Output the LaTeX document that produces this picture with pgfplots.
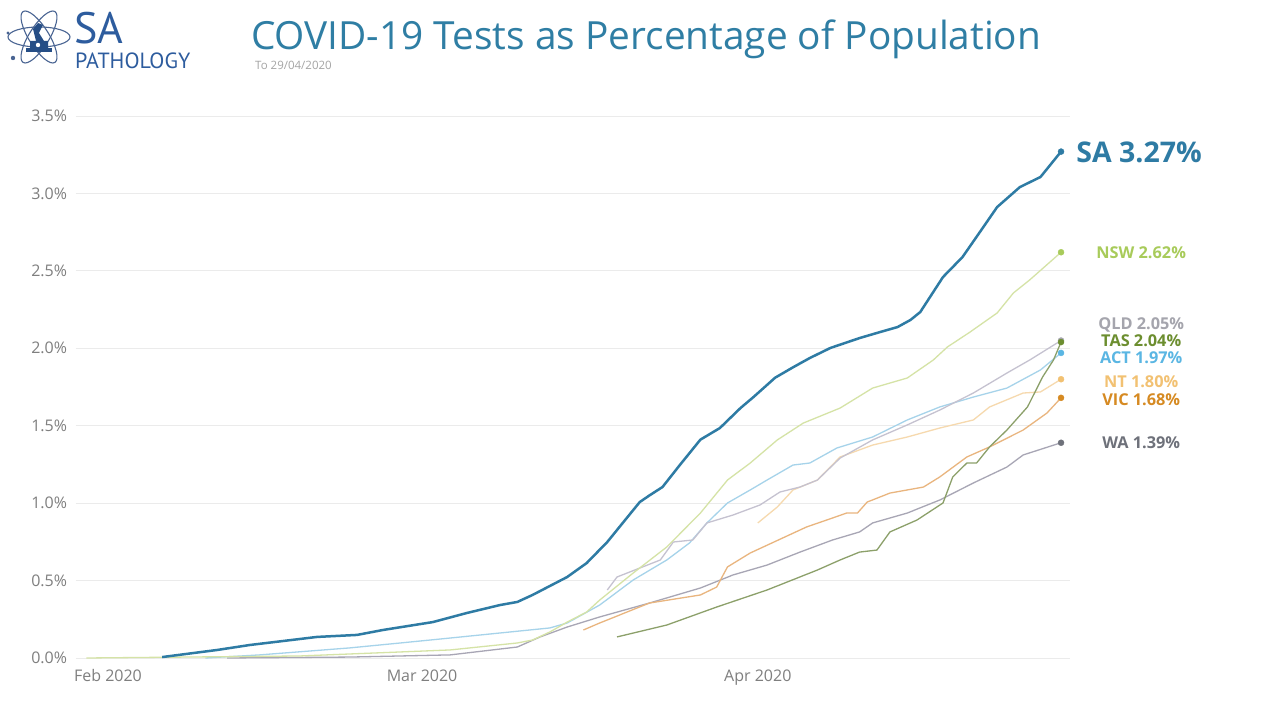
\documentclass[border=0pt]{standalone}
\usepackage{fontspec}
\setmainfont{Open Sans}
\newfontfamily\logofont{PT Sans}
\usepackage{pgfplots}
\pgfplotsset{compat=1.18}
\definecolor{gridc}{HTML}{EBEBEB}
\definecolor{tickc}{HTML}{7F7F7F}
\definecolor{titlec}{HTML}{2F7EA4}
\definecolor{logoc}{HTML}{2D5C9E}
\definecolor{atomc}{HTML}{4A6593}
\definecolor{cSA}{HTML}{2E7BA4}
\definecolor{lNSW}{HTML}{D5E3A6}\definecolor{dNSW}{HTML}{A8CB5A}
\definecolor{lQLD}{HTML}{C5C2D0}\definecolor{dQLD}{HTML}{A5A5AD}
\definecolor{lTAS}{HTML}{8CA06A}\definecolor{dTAS}{HTML}{6C8E2F}
\definecolor{lACT}{HTML}{A6D3EA}\definecolor{dACT}{HTML}{5AB6E3}
\definecolor{lNT}{HTML}{F6D9AE}\definecolor{dNT}{HTML}{F2C172}
\definecolor{lVIC}{HTML}{E9B57E}\definecolor{dVIC}{HTML}{D68A22}
\definecolor{lWA}{HTML}{A8A6B5}\definecolor{dWA}{HTML}{6E717A}
\begin{document}
\begin{tikzpicture}[x=1bp,y=1bp]
\path[use as bounding box, fill=white] (0,0) rectangle (1280,721);
% logo
\begin{scope}[shift={(39,684)}, draw=atomc, line width=1.1bp]
\draw (0,0) ellipse [x radius=31, y radius=10];
\draw[rotate=58] (0,0) ellipse [x radius=30, y radius=10];
\draw[rotate=-58] (0,0) ellipse [x radius=30, y radius=10];
\fill[logoc!85!black] (-13,-15) rectangle (13,-11);
\fill[logoc!85!black] (-9,-11) -- (-9,-4) -- (-3,-4) -- (-6,8) -- (-1,14) -- (4,12) -- (0,4) -- (5,-4) -- (9,-4) -- (9,-11) -- cycle;
\fill[white] (-1,-8) circle (2.2);
\fill[atomc] (-26,-21) circle (2.2);
\fill[atomc] (-31,4) circle (1.6);
\end{scope}
\node[anchor=base west, inner sep=0, text depth=0pt, text=logoc, font=\logofont\fontsize{44bp}{48bp}\selectfont] at (74,677.5) {SA};
\node[anchor=base west, inner sep=0, text height=15bp, text=logoc, font=\logofont\fontsize{22bp}{24bp}\selectfont] at (75,652.5) {PATHOLOGY};
% title
\node[anchor=base west, inner sep=0, text=titlec, font=\fontsize{38.8bp}{44bp}\selectfont] at (251,671) {COVID-19 Tests as Percentage of Population};
\node[anchor=base west, inner sep=0, text=tickc!70, font=\fontsize{11.5bp}{13bp}\selectfont] at (255,651) {To 29/04/2020};
\begin{axis}[
  at={(75.5bp,63bp)}, anchor=south west, scale only axis,
  width=994.2bp, height=542bp,
  xmin=-3, xmax=88.8, ymin=0, ymax=3.5,
  axis line style={draw=none}, tick style={draw=none},
  ymajorgrids, grid style={color=gridc, line width=0.9bp},
  ytick={0,0.5,1,1.5,2,2.5,3,3.5},
  xtick={0,29,60}, xticklabels={Feb 2020, Mar 2020, Apr 2020},
  /pgf/number format/assume math mode=true,
  yticklabel={\pgfmathprintnumber[fixed,fixed zerofill,precision=1]{\tick}\%},
  tick label style={font=\fontsize{16bp}{18bp}\selectfont, text=tickc},
  yticklabel style={xshift=-5bp},
  xticklabel style={yshift=-8bp},
  clip=false,
  every axis plot/.append style={line join=round},
]
% WA
\addplot[lWA, line width=1.3bp] coordinates {(11,0)(22.3,0.006)(31.6,0.02)(37.8,0.071)(39.9,0.136)(42.4,0.2)(45.4,0.265)(50.0,0.355)(54.7,0.452)(57.7,0.536)(60.85,0.6)(63.9,0.684)(66.9,0.762)(69.4,0.814)(70.6,0.872)(73.8,0.936)(76.8,1.02)(79.9,1.13)(83.0,1.233)(84.5,1.311)(88,1.39)};
% VIC
\addplot[lVIC, line width=1.3bp] coordinates {(43.9,0.181)(45.4,0.226)(50.0,0.355)(54.7,0.407)(56.2,0.458)(57.2,0.588)(59.3,0.678)(62.3,0.775)(64.5,0.846)(66.9,0.904)(68.2,0.936)(69.2,0.936)(70.1,1.007)(72.2,1.065)(75.3,1.104)(76.8,1.169)(79.3,1.298)(81.4,1.363)(84.5,1.472)(86.7,1.582)(88,1.68)};
% NT
\addplot[lNT, line width=1.3bp] coordinates {(60.0,0.872)(61.8,0.975)(63.25,1.085)(65.5,1.149)(67.6,1.298)(70.6,1.375)(73.8,1.427)(76.8,1.485)(79.9,1.537)(81.4,1.621)(84.5,1.711)(86.1,1.718)(88,1.80)};
% ACT
\addplot[lACT, line width=1.3bp] coordinates {(9,0)(14.0,0.02)(22.3,0.065)(27.0,0.097)(31.6,0.129)(40.8,0.194)(42.4,0.226)(45.4,0.342)(48.5,0.504)(51.6,0.633)(53.7,0.743)(55.3,0.872)(57.2,1.001)(59.3,1.085)(60.85,1.149)(63.25,1.246)(64.8,1.259)(67.3,1.356)(70.6,1.427)(73.8,1.537)(76.8,1.621)(79.9,1.685)(83.0,1.743)(86.1,1.86)(88,1.97)};
% QLD
\addplot[lQLD, line width=1.3bp] coordinates {(46.1,0.439)(47.0,0.523)(51.0,0.633)(52.2,0.749)(54.0,0.762)(55.3,0.872)(57.7,0.923)(60.2,0.988)(62.05,1.072)(63.9,1.104)(65.5,1.149)(67.6,1.291)(70.6,1.408)(73.8,1.505)(76.8,1.601)(79.9,1.711)(83.0,1.84)(85.1,1.924)(88,2.05)};
% NSW
\addplot[lNSW, line width=1.3bp] coordinates {(-2,0)(17.7,0.013)(27.0,0.039)(31.6,0.052)(37.8,0.097)(39.2,0.116)(40.8,0.168)(42.4,0.232)(44.2,0.297)(45.4,0.374)(48.5,0.549)(51.6,0.717)(54.7,0.936)(57.2,1.149)(59.3,1.259)(61.8,1.408)(64.2,1.517)(67.6,1.614)(70.6,1.743)(73.8,1.808)(76.2,1.924)(77.5,2.008)(79.6,2.105)(82.1,2.228)(83.6,2.357)(85.1,2.441)(88,2.62)};
% TAS
\addplot[lTAS, line width=1.3bp] coordinates {(47.0,0.136)(51.6,0.213)(56.2,0.329)(60.85,0.439)(65.5,0.568)(67.6,0.633)(69.4,0.684)(71.0,0.697)(72.2,0.814)(74.7,0.891)(77.1,1.001)(78.0,1.169)(79.3,1.259)(80.2,1.259)(81.4,1.363)(83.0,1.472)(84.9,1.621)(86.3,1.815)(87.3,1.924)(88,2.04)};
% SA
\addplot[cSA, line width=2.5bp] coordinates {(5,0.006)(10.1,0.052)(13.1,0.084)(19.3,0.136)(23.0,0.149)(25.4,0.181)(30.0,0.232)(33.1,0.29)(36.2,0.342)(37.8,0.362)(39.2,0.407)(42.4,0.523)(44.2,0.613)(46.1,0.749)(47.9,0.904)(49.1,1.007)(50.0,1.05)(51.2,1.104)(52.8,1.246)(54.7,1.41)(56.5,1.485)(58.4,1.614)(59.6,1.685)(61.6,1.81)(63.3,1.879)(64.8,1.937)(66.7,2.002)(69.4,2.066)(71.3,2.105)(72.9,2.137)(74.1,2.183)(75.0,2.234)(77.1,2.46)(78.9,2.589)(80.5,2.75)(82.1,2.912)(84.2,3.041)(86.1,3.106)(88,3.27)};
% end dots
\addplot[only marks, mark=*, mark size=3bp, dWA, mark options={draw=dWA,fill=dWA}] coordinates {(88,1.39)};
\addplot[only marks, mark=*, mark size=3bp, dVIC, mark options={draw=dVIC,fill=dVIC}] coordinates {(88,1.68)};
\addplot[only marks, mark=*, mark size=3bp, dNT, mark options={draw=dNT,fill=dNT}] coordinates {(88,1.80)};
\addplot[only marks, mark=*, mark size=3bp, dACT, mark options={draw=dACT,fill=dACT}] coordinates {(88,1.97)};
\addplot[only marks, mark=*, mark size=3bp, dQLD, mark options={draw=dQLD,fill=dQLD}] coordinates {(88,2.05)};
\addplot[only marks, mark=*, mark size=3bp, dTAS, mark options={draw=dTAS,fill=dTAS}] coordinates {(88,2.04)};
\addplot[only marks, mark=*, mark size=3bp, dNSW, mark options={draw=dNSW,fill=dNSW}] coordinates {(88,2.62)};
\addplot[only marks, mark=*, mark size=3bp, cSA, mark options={draw=cSA,fill=cSA}] coordinates {(88,3.27)};
% labels
\node[anchor=west, inner sep=0, text=cSA, font=\bfseries\fontsize{28.5bp}{31bp}\selectfont] at (axis cs:89.4,3.267) {SA 3.27\%};
\begin{scope}[every node/.style={anchor=center, inner sep=0, font=\bfseries\fontsize{16.3bp}{17bp}\selectfont}]
\node[text=dNSW] at (axis cs:95.4,2.615) {NSW 2.62\%};
\node[text=dQLD] at (axis cs:95.4,2.15) {QLD 2.05\%};
\node[text=dTAS] at (axis cs:95.4,2.047) {TAS 2.04\%};
\node[text=dACT] at (axis cs:95.4,1.937) {ACT 1.97\%};
\node[text=dNT] at (axis cs:95.4,1.782) {NT 1.80\%};
\node[text=dVIC] at (axis cs:95.4,1.666) {VIC 1.68\%};
\node[text=dWA] at (axis cs:95.4,1.388) {WA 1.39\%};
\end{scope}
\end{axis}
\end{tikzpicture}
\end{document}
